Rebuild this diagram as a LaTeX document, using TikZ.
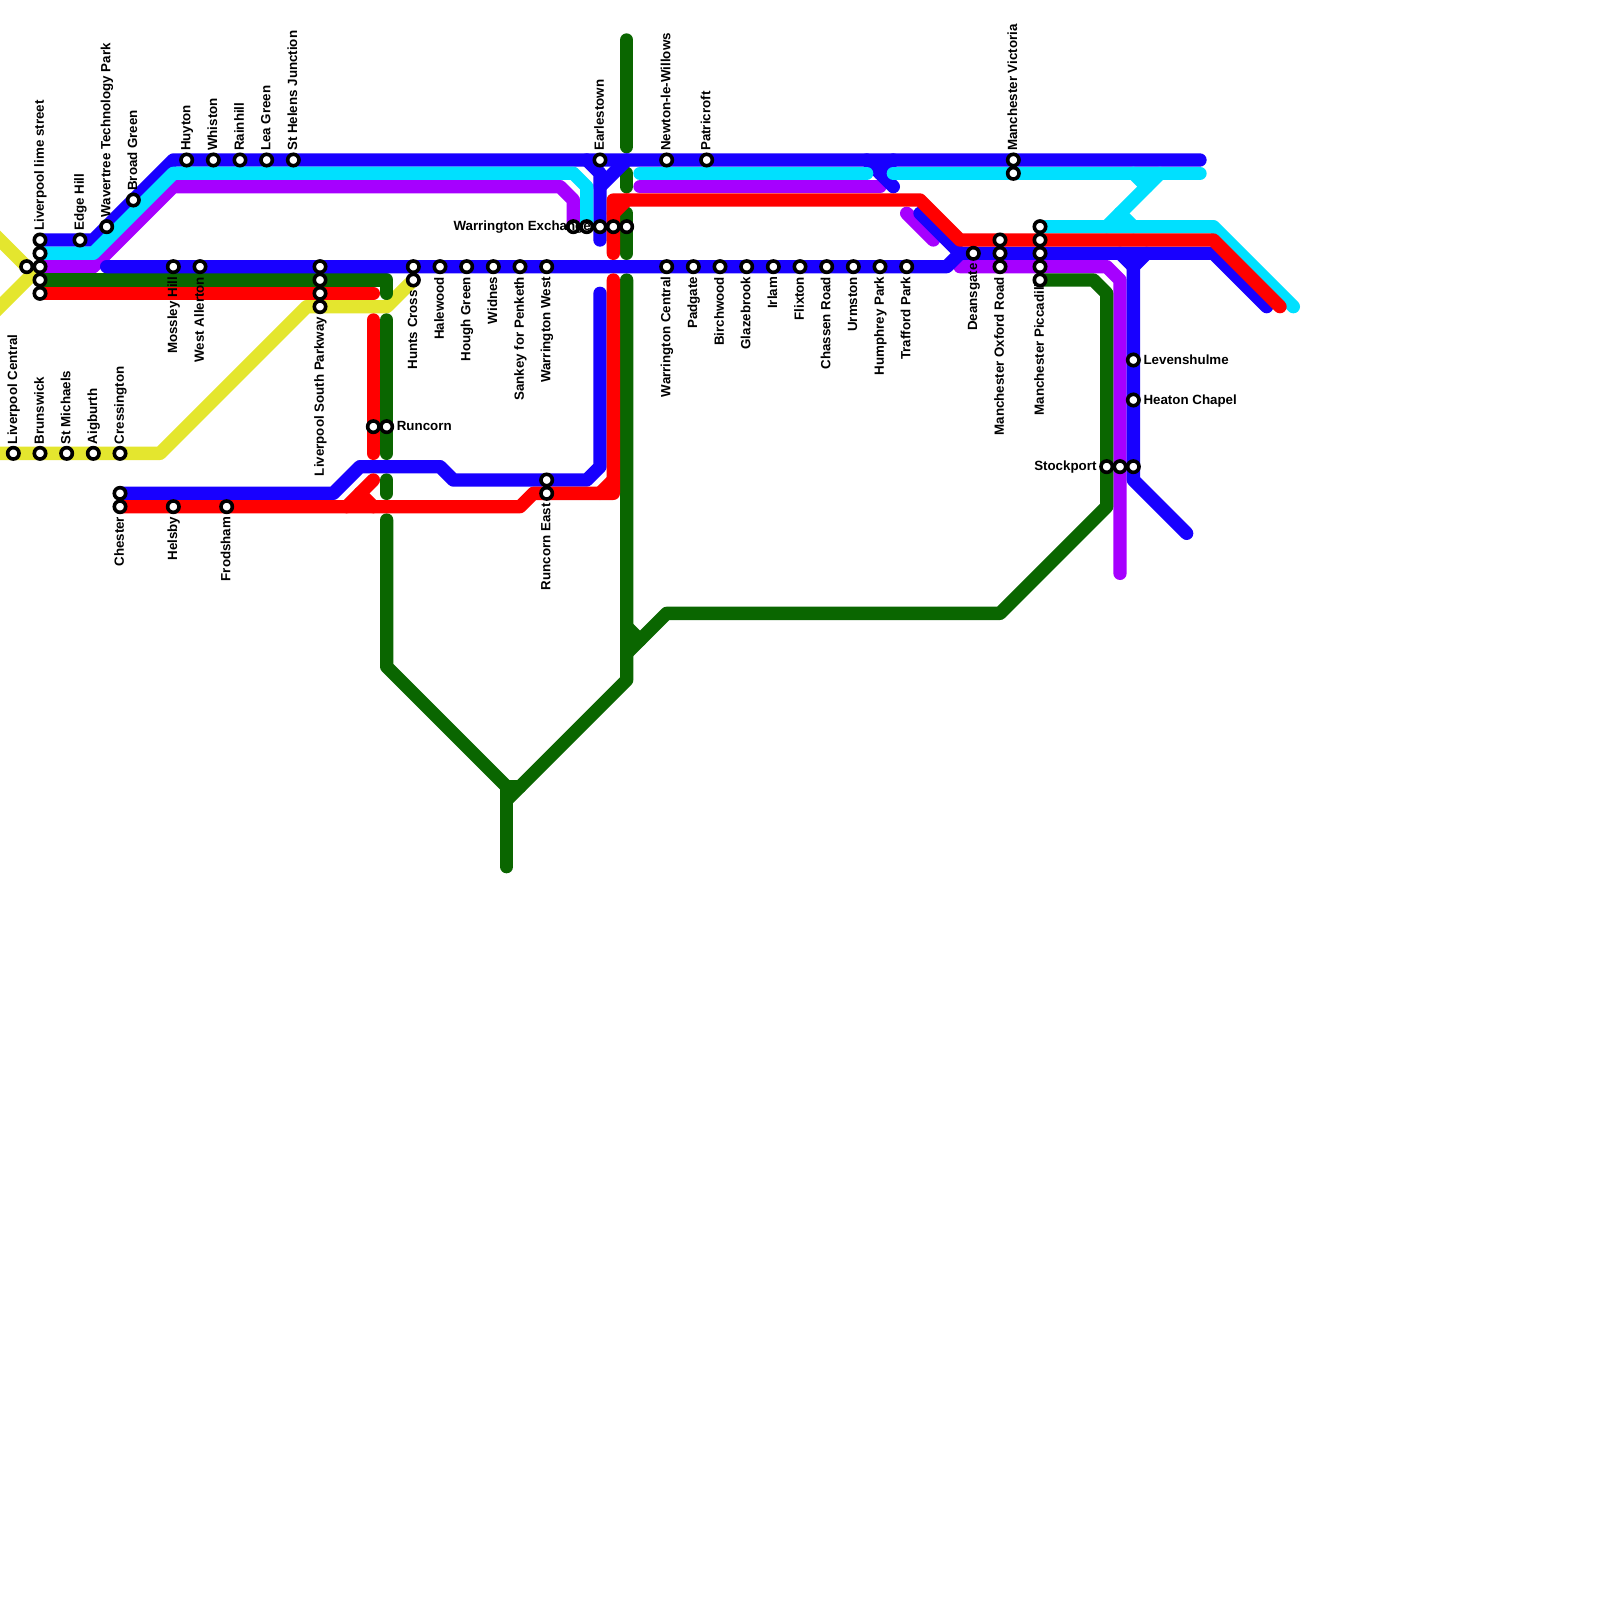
\documentclass[tikz,border=0pt]{standalone}
\usepackage{fontspec}
\setmainfont{Liberation Sans}
\definecolor{lblue}{HTML}{1800FF}
\definecolor{lcyan}{HTML}{00E0FF}
\definecolor{lpurple}{HTML}{A600FF}
\definecolor{lred}{HTML}{FF0000}
\definecolor{lgreen}{HTML}{0A6600}
\definecolor{lyellow}{HTML}{E4E62E}
\tikzset{
  railline/.style={line width=13.33bp,line cap=round,line join=round},
  stn/.style={circle,draw=black,fill=white,line width=3.6bp,minimum size=11.4bp,inner sep=0pt},
  lab/.style={font=\fontsize{13.33bp}{14bp}\selectfont\bfseries,text=black,inner sep=0pt},
  labup/.style={lab,rotate=90,anchor=base west},
  labdown/.style={lab,rotate=90,anchor=base east},
  labright/.style={lab,anchor=base west},
  lableft/.style={lab,anchor=base east}
}
\newcommand{\stn}[3]{\node[stn] (#1) at (#2,#3) {};}
\newcommand{\stup}[4]{\stn{#1}{#2}{#3}\node[labup] (#1t) at ([xshift=3.8bp,yshift=9bp]#1.center) {#4};}
\newcommand{\stdown}[4]{\stn{#1}{#2}{#3}\node[labdown] (#1t) at ([xshift=3.8bp,yshift=-10bp]#1.center) {#4};}
\newcommand{\stright}[4]{\stn{#1}{#2}{#3}\node[labright] (#1t) at ([xshift=10bp,yshift=-4.2bp]#1.center) {#4};}
\newcommand{\stleft}[4]{\stn{#1}{#2}{#3}\node[lableft] (#1t) at ([xshift=-10bp,yshift=-4.2bp]#1.center) {#4};}
\begin{document}
\begin{tikzpicture}[x=13.3333bp,y=-13.3333bp]
\useasboundingbox (0,0) rectangle (120,120);
\fill[white] (0,0) rectangle (120,120);
\clip (0,0) rectangle (120,120);
% yellow
\draw[railline,lyellow] (-1,17) -- (2,20);
\draw[railline,lyellow] (-1,24) -- (3,20);
\draw[railline,lyellow] (-1,34) -- (12,34) -- (23,23) -- (29,23) -- (31,21);
% purple
\draw[railline,lpurple] (3,20) -- (7,20) -- (13,14) -- (42,14) -- (43,15) -- (43,17);
\draw[railline,lpurple] (48,14) -- (66,14);
\draw[railline,lpurple] (68,16) -- (70,18);
\draw[railline,lpurple] (72,20) -- (83,20) -- (84,21) -- (84,43);
% green
\draw[railline,lgreen] (3,21) -- (29,21) -- (29,22);
\draw[railline,lgreen] (29,24) -- (29,34);
\draw[railline,lgreen] (29,36) -- (29,37);
\draw[railline,lgreen] (29,39) -- (29,50) -- (38,59) -- (39,59) -- (47,51) -- (47,21);
\draw[railline,lgreen] (38,59) -- (38,65);
\draw[railline,lgreen] (39,59) -- (38,60);
\draw[railline,lgreen] (47,3) -- (47,11);
\draw[railline,lgreen] (47,13) -- (47,14);
\draw[railline,lgreen] (47,16) -- (47,19);
\draw[railline,lgreen] (47,47) -- (48,48);
\draw[railline,lgreen] (47,49) -- (50,46) -- (75,46) -- (83,38) -- (83,22) -- (82,21) -- (78,21);
% blue
\draw[railline,lblue] (3,18) -- (7,18) -- (13,12) -- (90,12);
\draw[railline,lblue] (44,12) -- (45,13) -- (45,18);
\draw[railline,lblue] (47,12) -- (45,14);
\draw[railline,lblue] (65,12) -- (66,13) -- (67,14);
\draw[railline,lblue] (67,12) -- (66,13);
\draw[railline,lblue] (8,20) -- (71,20) -- (72,19);
\draw[railline,lblue] (69,16) -- (72,19) -- (91,19) -- (95,23);
\draw[railline,lblue] (86,19) -- (85,20) -- (85,36) -- (89,40);
\draw[railline,lblue] (84,19) -- (85,20);
\draw[railline,lblue] (9,37) -- (25,37) -- (27,35) -- (33,35) -- (34,36) -- (44,36) -- (45,35) -- (45,22);
% cyan
\draw[railline,lcyan] (3,19) -- (7,19) -- (13,13) -- (43,13) -- (44,14) -- (44,17);
\draw[railline,lcyan] (48,13) -- (65,13);
\draw[railline,lcyan] (67,13) -- (90,13);
\draw[railline,lcyan] (78,17) -- (91,17) -- (97,23);
\draw[railline,lcyan] (83,17) -- (87,13);
\draw[railline,lcyan] (85,13) -- (86,14);
\draw[railline,lcyan] (84,16) -- (85,17);
% red
\draw[railline,lred] (3,22) -- (28,22);
\draw[railline,lred] (28,24) -- (28,34);
\draw[railline,lred] (9,38) -- (39,38) -- (40,37) -- (46,37) -- (46,21);
\draw[railline,lred] (45,37) -- (46,36);
\draw[railline,lred] (26,38) -- (28,36);
\draw[railline,lred] (27,37) -- (28,38);
\draw[railline,lred] (46,19) -- (46,15) -- (69,15) -- (72,18) -- (91,18) -- (96,23);
\draw[railline,lred] (47,15) -- (46,16);
% stations and labels
\stup{a1}{1}{34}{Liverpool Central}
\stup{a2}{3}{34}{Brunswick}
\stup{a3}{5}{34}{St Michaels}
\stup{a4}{7}{34}{Aigburth}
\stup{a5}{9}{34}{Cressington}
\stn{b1}{2}{20}
\stup{b2}{3}{18}{Liverpool lime street}
\stn{b3}{3}{19}
\stn{b4}{3}{20}
\stn{b5}{3}{21}
\stn{b6}{3}{22}
\stup{c1}{6}{18}{Edge Hill}
\stup{c2}{8}{17}{Wavertree Technology Park}
\stup{c3}{10}{15}{Broad Green}
\stup{d1}{14}{12}{Huyton}
\stup{d2}{16}{12}{Whiston}
\stup{d3}{18}{12}{Rainhill}
\stup{d4}{20}{12}{Lea Green}
\stup{d5}{22}{12}{St Helens Junction}
\stdown{e1}{13}{20}{Mossley Hill}
\stdown{e2}{15}{20}{West Allerton}
\stn{f1}{24}{20}
\stn{f2}{24}{21}
\stn{f3}{24}{22}
\stdown{f4}{24}{23}{Liverpool South Parkway}
\stn{g1}{31}{20}
\stdown{g2}{31}{21}{Hunts Cross}
\stdown{g3}{33}{20}{Halewood}
\stdown{g4}{35}{20}{Hough Green}
\stdown{g5}{37}{20}{Widnes}
\stdown{g6}{39}{20}{Sankey for Penketh}
\stdown{g7}{41}{20}{Warrington West}
\stn{h1}{28}{32}
\stright{h2}{29}{32}{Runcorn}
\stn{i1}{9}{37}
\stdown{i2}{9}{38}{Chester}
\stdown{i3}{13}{38}{Helsby}
\stdown{i4}{17}{38}{Frodsham}
\stn{i5}{41}{36}
\stdown{i6}{41}{37}{Runcorn East}
\stup{j1}{45}{12}{Earlestown}
\stup{j2}{50}{12}{Newton-le-Willows}
\stup{j3}{53}{12}{Patricroft}
\stn{k1}{43}{17}
\stn{k2}{44}{17}
\stn{k3}{45}{17}
\stn{k4}{46}{17}
\stn{k5}{47}{17}
\node[labright] (k1t) at ([xshift=-120bp,yshift=-4.2bp]k1.center) {Warrington Exchange};
\stdown{m1}{50}{20}{Warrington Central}
\stdown{m2}{52}{20}{Padgate}
\stdown{m3}{54}{20}{Birchwood}
\stdown{m4}{56}{20}{Glazebrook}
\stdown{m5}{58}{20}{Irlam}
\stdown{m6}{60}{20}{Flixton}
\stdown{m7}{62}{20}{Chassen Road}
\stdown{m8}{64}{20}{Urmston}
\stdown{m9}{66}{20}{Humphrey Park}
\stdown{m10}{68}{20}{Trafford Park}
\stdown{n1}{73}{19}{Deansgate}
\stn{n2}{75}{18}
\stn{n3}{75}{19}
\stdown{n4}{75}{20}{Manchester Oxford Road}
\stup{n5}{76}{12}{Manchester Victoria}
\stn{n6}{76}{13}
\stn{p1}{78}{17}
\stn{p2}{78}{18}
\stn{p3}{78}{19}
\stn{p4}{78}{20}
\stn{p5}{78}{21}
\node[labdown] (p5t) at ([xshift=3.8bp,yshift=-3.3bp]p5.center) {Manchester Piccadill};
\stright{q1}{85}{27}{Levenshulme}
\stright{q2}{85}{30}{Heaton Chapel}
\stleft{q3}{83}{35}{Stockport}
\stn{q4}{84}{35}
\stn{q5}{85}{35}
\end{tikzpicture}
\end{document}
